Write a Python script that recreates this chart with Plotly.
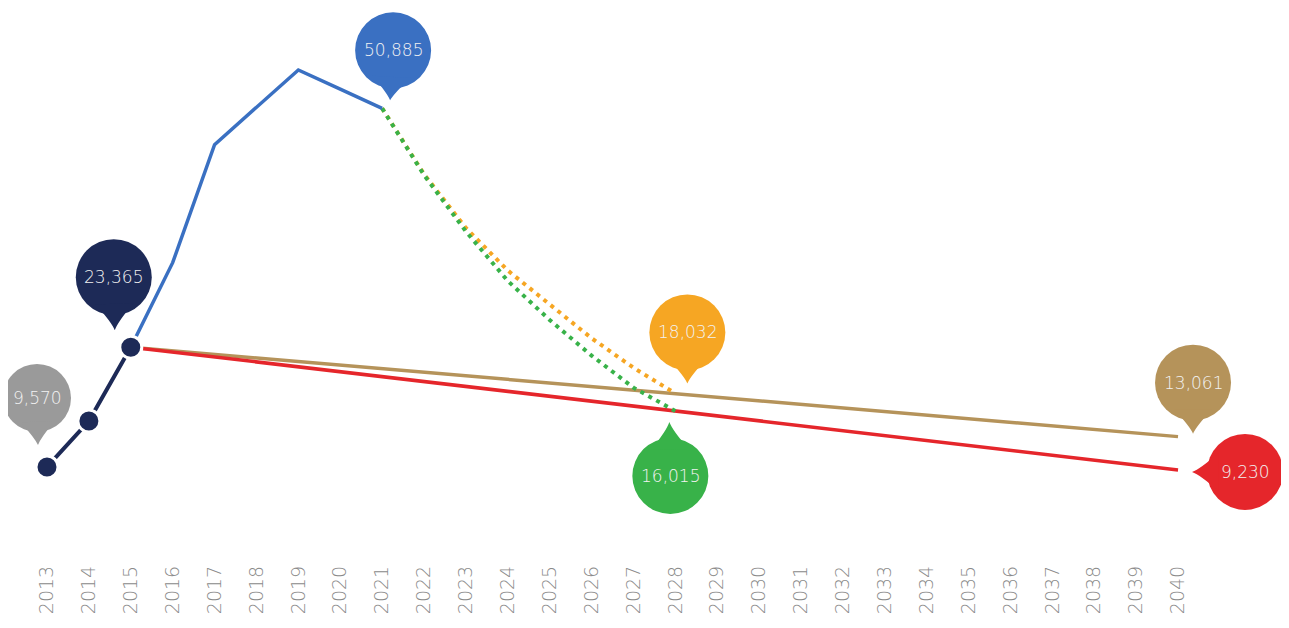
import math

import plotly.graph_objects as go

# -----------------------------
# Data
# -----------------------------

hist_years = [2013, 2014, 2015]
hist_values = [9570, 14860, 23365]

peak_years = [2015, 2016, 2017, 2018, 2019, 2020, 2021]
peak_values = [23365, 33100, 46700, 51000, 55300, 53100, 50885]

proj_years = [2021, 2022, 2023, 2024, 2025, 2026, 2027, 2028]
high_values = [50885, 43300, 37100, 32200, 28300, 24400, 21000, 18032]
low_values = [50885, 43200, 36700, 31000, 26500, 22400, 18700, 16015]

flat_years = [2015, 2040]
upper_values = [23365, 13061]
lower_values = [23365, 9230]

tick_years = list(range(2013, 2041))

NAVY = "#1d2a57"
BLUE = "#3a70c2"
GREY = "#9a9a9a"
ORANGE = "#f6a623"
GREEN = "#38b249"
TAN = "#b5935a"
RED = "#e5262b"

FONT = "DejaVu Sans, Lato, sans-serif"

# -----------------------------
# Lines
# -----------------------------

fig = go.Figure()

fig.add_trace(go.Scatter(x=flat_years, y=upper_values, mode="lines",
                         line=dict(color=TAN, width=3.5)))
fig.add_trace(go.Scatter(x=flat_years, y=lower_values, mode="lines",
                         line=dict(color=RED, width=3.5)))
fig.add_trace(go.Scatter(x=proj_years, y=high_values, mode="lines",
                         line=dict(color=ORANGE, width=4, dash="4px,5px")))
fig.add_trace(go.Scatter(x=proj_years, y=low_values, mode="lines",
                         line=dict(color=GREEN, width=4, dash="4px,5px")))
fig.add_trace(go.Scatter(x=peak_years, y=peak_values, mode="lines",
                         line=dict(color=BLUE, width=3.5)))
fig.add_trace(go.Scatter(x=hist_years, y=hist_values, mode="lines+markers",
                         line=dict(color=NAVY, width=4),
                         marker=dict(color=NAVY, size=22,
                                     line=dict(color="white", width=3))))

# -----------------------------
# Callout bubbles (pixel offsets from the data point, +y is up)
# -----------------------------

callouts = [
    (hist_years[0], hist_values[0], GREY, (-10, 69), (-9, 22), 34),
    (hist_years[-1], hist_values[-1], NAVY, (-17, 70), (-16, 17), 38),
    (peak_years[-1], peak_values[-1], BLUE, (11, 58), (8, 8), 38),
    (proj_years[-1], high_values[-1], ORANGE, (12, 61), (12, 10), 38),
    (proj_years[-1], low_values[-1], GREEN, (-5, -65), (-6, -11), 38),
    (flat_years[-1], upper_values[-1], TAN, (15, 54), (15, 3), 38),
    (flat_years[-1], lower_values[-1], RED, (67, -2), (14, -2), 38),
]

shapes = []
annotations = []
for x, y, color, (cx, cy), (tx, ty), r in callouts:
    shapes.append(dict(
        type="circle", xref="x", yref="y",
        xsizemode="pixel", ysizemode="pixel", xanchor=x, yanchor=y,
        x0=cx - r, x1=cx + r, y0=cy - r, y1=cy + r,
        fillcolor=color, line=dict(width=0), layer="above",
    ))
    dx, dy = tx - cx, ty - cy
    length = math.hypot(dx, dy)
    ux, uy = dx / length, dy / length
    px, py = -uy, ux
    b1 = (cx + ux * r * 0.7 + px * r * 0.5, cy + uy * r * 0.7 + py * r * 0.5)
    b2 = (cx + ux * r * 0.7 - px * r * 0.5, cy + uy * r * 0.7 - py * r * 0.5)
    k = r + (length - r) * 0.45
    c1 = (cx + ux * k + px * 3, cy + uy * k + py * 3)
    c2 = (cx + ux * k - px * 3, cy + uy * k - py * 3)
    path = (f"M {b1[0]:.1f},{b1[1]:.1f} Q {c1[0]:.1f},{c1[1]:.1f} {tx},{ty} "
            f"Q {c2[0]:.1f},{c2[1]:.1f} {b2[0]:.1f},{b2[1]:.1f} Z")
    shapes.append(dict(
        type="path", xref="x", yref="y",
        xsizemode="pixel", ysizemode="pixel", xanchor=x, yanchor=y,
        path=path, fillcolor=color, line=dict(width=0), layer="above",
    ))
    annotations.append(dict(
        x=x, y=y, xref="x", yref="y", text=f"{y:,}", showarrow=False,
        xshift=cx, yshift=cy,
        font=dict(family=FONT, size=17, color="#f2f2f2", weight=200),
    ))

# -----------------------------
# Layout
# -----------------------------

fig.update_layout(
    width=1289,
    height=628,
    margin=dict(l=0, r=0, t=0, b=75),
    paper_bgcolor="white",
    plot_bgcolor="white",
    showlegend=False,
    shapes=shapes,
    annotations=annotations,
    xaxis=dict(
        range=[2012.069, 2042.84],
        tickvals=tick_years,
        ticktext=[str(t) for t in tick_years],
        tickangle=-90,
        showgrid=False,
        zeroline=False,
        showline=False,
        ticks="",
        automargin=False,
        tickfont=dict(family=FONT, size=19, color="#8a8a8a", weight=200),
    ),
    yaxis=dict(
        range=[-1267, 62442],
        visible=False,
        showgrid=False,
        zeroline=False,
    ),
)

fig.write_html("out.html")
